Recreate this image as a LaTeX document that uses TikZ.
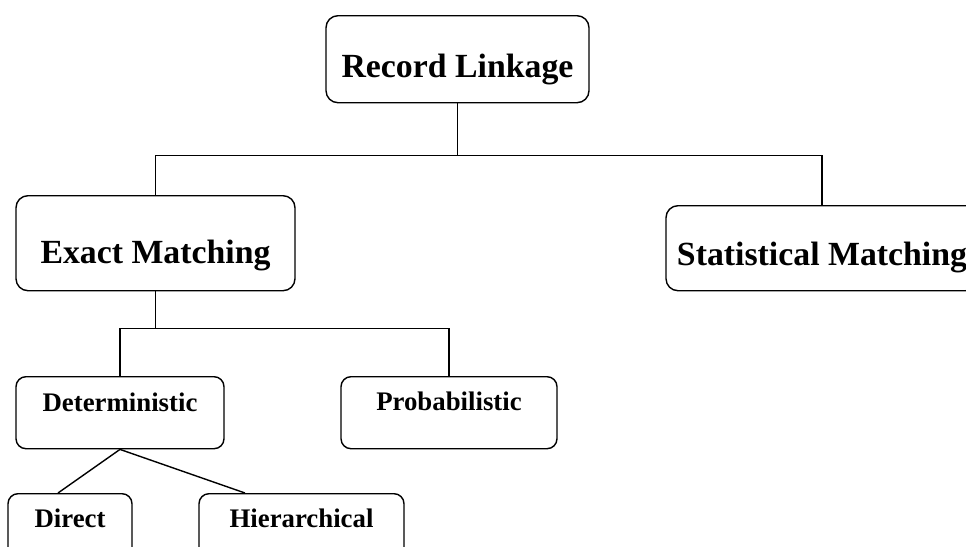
\documentclass[tikz,border=0pt]{standalone}
\usepackage{fontspec}
\setmainfont{Liberation Serif}
\usepackage{tikz}
\usetikzlibrary{positioning, calc}

\tikzset{
  bigbox/.style={draw, line width=1.4pt, rounded corners=12pt, inner sep=0pt,
                 font=\fontsize{33.8}{40}\selectfont\bfseries},
  smallbox/.style={draw, line width=1.4pt, rounded corners=10pt, inner sep=0pt,
                   font=\fontsize{26.8}{30}\selectfont\bfseries},
  link/.style={line width=1.4pt}
}

\begin{document}
\begin{tikzpicture}[x=1pt, y=-1pt]
    \useasboundingbox (0,0) rectangle (966,546);
    % top level
    \node[bigbox, minimum width=263pt, text height=62pt, text depth=25pt,
          anchor=north] (record) at (457.5,15) {Record Linkage};
    \node[bigbox, minimum width=279pt, text height=68pt, text depth=27pt,
          anchor=north] (exact) at (155.5,195) {Exact Matching};
    \node[bigbox, minimum width=312pt, text height=60pt, text depth=25pt,
          anchor=north] (stat) at (822,205) {Statistical Matching};
    % exact matching branches
    \node[smallbox, minimum width=208pt, text height=35pt, text depth=37pt,
          anchor=north] (det) at (120,376) {Deterministic};
    \node[smallbox, minimum width=216pt, text height=34pt, text depth=38pt,
          anchor=north] (prob) at (449,376) {Probabilistic};
    \node[smallbox, minimum width=124pt, text height=34pt, text depth=45pt,
          anchor=north] (direct) at (70,493) {Direct};
    \node[smallbox, minimum width=205pt, text height=34pt, text depth=45pt,
          anchor=north] (hier) at (301.5,493) {Hierarchical};
    % connectors
    \draw[link] (record.south) -- ++(0,52) coordinate (j1);
    \draw[link] (exact.north) |- (j1) -| (stat.north);
    \draw[link] (exact.south) -- ++(0,37) coordinate (j2);
    \draw[link] (det.north) |- (j2) -| (prob.north);
    \draw[link] (det.south) -- ([xshift=-12pt]direct.north);
    \draw[link] (det.south) -- ([xshift=-56.5pt]hier.north);
\end{tikzpicture}
\end{document}
